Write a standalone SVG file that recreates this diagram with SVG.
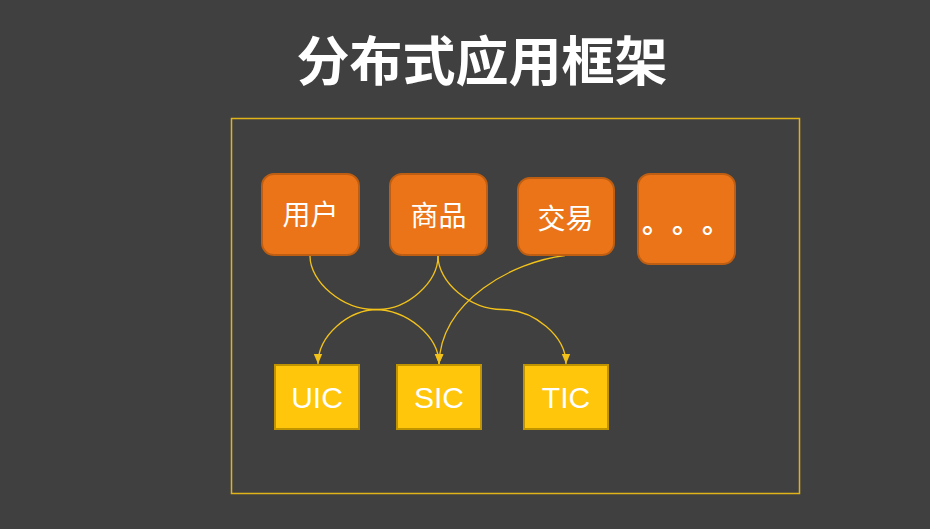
<svg xmlns="http://www.w3.org/2000/svg" width="930" height="529" viewBox="0 0 930 529">
<defs>
<style>
.bg{fill:#404040}
.frame{fill:none;stroke:#E0B418;stroke-width:1.5}
.ob{fill:#EB7418;stroke:#BE5E12;stroke-width:2}
.yb{fill:#FFC60B;stroke:#C09400;stroke-width:2}
.cn{fill:#FFFFFF;font-family:"Noto Sans CJK SC","Microsoft YaHei",sans-serif;font-size:28px;text-anchor:middle}
.dot{fill:#FFFFFF;font-family:"Noto Sans CJK SC",sans-serif;font-weight:bold;font-size:28px;text-anchor:start}
.en{fill:#FFFFFF;font-family:"Liberation Sans","Arial",sans-serif;font-size:30px;text-anchor:middle}
.title{fill:#FFFFFF;font-family:"Noto Sans CJK SC",sans-serif;font-weight:bold;font-size:53px;text-anchor:middle}
.conn{fill:none;stroke:#F2C21A;stroke-width:1.3}
</style>
<marker id="arr" markerUnits="userSpaceOnUse" markerWidth="10" markerHeight="10" viewBox="0 0 10 10" refX="10" refY="5" orient="auto">
<path d="M0,0.8 L10,5 L0,9.2 Z" fill="#F2C21A"/>
</marker>
</defs>
<rect class="bg" x="0" y="0" width="930" height="529"/>
<text class="title" x="482" y="81">分布式应用框架</text>
<rect class="frame" x="231.5" y="118.5" width="568" height="375"/>
<g id="connectors">
<path class="conn" marker-end="url(#arr)" d="M310,256 C310,282 342.5,309.5 374.5,309.5 C406.5,309.5 439,336 439,364"/>
<path class="conn" marker-end="url(#arr)" d="M438,256 C438,282 408,309.5 378,309.5 C348,309.5 318,336 318,364"/>
<path class="conn" marker-end="url(#arr)" d="M438,256 C438,282 470,309.5 502,309.5 C534,309.5 566,336 566,364"/>
<path class="conn" marker-end="url(#arr)" d="M565,255.5 C513,262 441,300 439,364"/>
</g>
<g id="node-yonghu">
<rect class="ob" x="262" y="174" width="97" height="81" rx="12"/>
<text class="cn" x="310.5" y="225">用户</text>
</g>
<g id="node-shangpin">
<rect class="ob" x="390" y="174" width="97" height="81" rx="12"/>
<text class="cn" x="438.5" y="226">商品</text>
</g>
<g id="node-jiaoyi">
<rect class="ob" x="518" y="178" width="96" height="77" rx="12"/>
<text class="cn" x="565.5" y="229">交易</text>
</g>
<g id="node-more">
<rect class="ob" x="638" y="174" width="97" height="90" rx="12"/>
<text class="dot" x="642" y="233">。</text>
<text class="dot" x="672" y="233">。</text>
<text class="dot" x="702" y="233">。</text>
</g>
<g id="node-uic">
<rect class="yb" x="275" y="365" width="84" height="64"/>
<text class="en" x="317" y="408">UIC</text>
</g>
<g id="node-sic">
<rect class="yb" x="397" y="365" width="84" height="64"/>
<text class="en" x="439" y="408">SIC</text>
</g>
<g id="node-tic">
<rect class="yb" x="524" y="365" width="84" height="64"/>
<text class="en" x="566" y="408">TIC</text>
</g>
</svg>
